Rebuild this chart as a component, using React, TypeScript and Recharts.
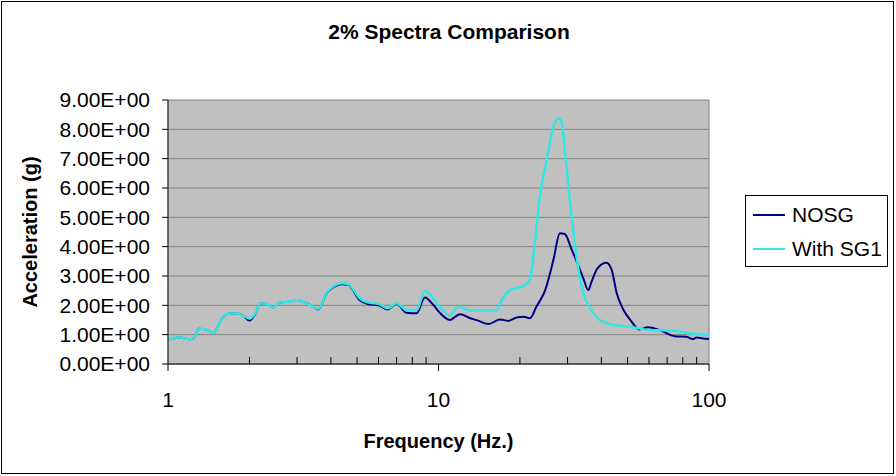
import React from "react";
import { LineChart, Line, XAxis, YAxis, CartesianGrid, ReferenceLine } from "recharts";

const titleText = "2% Spectra Comparison";
const xTitle = "Frequency (Hz.)";
const yTitle = "Acceleration (g)";
const seriesNames = ["NOSG", "With SG1"];

const yTicks = [0, 1, 2, 3, 4, 5, 6, 7, 8, 9];
const xTicks = [1, 2, 3, 4, 5, 6, 7, 8, 9, 10, 20, 30, 40, 50, 60, 70, 80, 90, 100];
const xMajor = [1, 10, 100];

const nosgFreq = [1.0, 1.05, 1.1, 1.15, 1.2, 1.25, 1.3, 1.38, 1.47, 1.55, 1.6, 1.7, 1.8, 1.9, 2.0, 2.1, 2.2, 2.3, 2.45, 2.6, 2.8, 3.0, 3.25, 3.45, 3.6, 3.85, 4.1, 4.4, 4.65, 4.8, 5.1, 5.5, 6.0, 6.5, 7.0, 7.6, 8.3, 8.9, 9.6, 10.1, 11, 12, 13.1, 14, 15.3, 16.9, 18.1, 19.4, 20.6, 21.8, 23, 24.8, 26.6, 28.1, 29.3, 31.1, 32.8, 34.3, 35.8, 36.8, 38.7, 41.8, 43.7, 45.6, 48.3, 51.2, 55.3, 59.5, 65.7, 74.9, 82.6, 86.9, 90, 95, 100];
const nosgAcc = [0.82, 0.87, 0.91, 0.88, 0.84, 0.9, 1.2, 1.18, 1.05, 1.4, 1.6, 1.72, 1.72, 1.64, 1.48, 1.7, 2.07, 2.05, 1.93, 2.1, 2.12, 2.18, 2.07, 1.95, 1.86, 2.4, 2.63, 2.72, 2.7, 2.55, 2.18, 2.04, 2.0, 1.86, 2.05, 1.75, 1.73, 2.27, 2.0, 1.75, 1.5, 1.7, 1.56, 1.48, 1.36, 1.52, 1.47, 1.58, 1.61, 1.56, 1.95, 2.52, 3.55, 4.46, 4.43, 3.89, 3.38, 2.92, 2.52, 2.81, 3.26, 3.45, 3.2, 2.41, 1.84, 1.5, 1.18, 1.25, 1.16, 0.95, 0.93, 0.85, 0.9, 0.87, 0.85];

const sg1Freq = [1.0, 1.05, 1.1, 1.15, 1.2, 1.25, 1.3, 1.38, 1.47, 1.55, 1.6, 1.7, 1.8, 1.9, 2.0, 2.1, 2.2, 2.3, 2.45, 2.6, 2.8, 3.0, 3.25, 3.45, 3.6, 3.85, 4.1, 4.4, 4.65, 4.8, 5.1, 5.5, 6.0, 6.5, 7.0, 7.6, 8.3, 8.9, 9.6, 10.1, 11, 11.85, 13.1, 16.4, 17.1, 18.4, 20.6, 21.8, 22.4, 23.7, 25.1, 26.6, 27.7, 28.5, 29.3, 30.6, 32.5, 34.3, 36.3, 39.5, 42.9, 51.2, 60.1, 71.9, 84.8, 98, 100];
const sg1Acc = [0.82, 0.87, 0.91, 0.88, 0.84, 0.9, 1.2, 1.18, 1.05, 1.4, 1.6, 1.72, 1.72, 1.64, 1.55, 1.72, 2.07, 2.05, 1.93, 2.1, 2.12, 2.18, 2.07, 1.95, 1.88, 2.42, 2.66, 2.75, 2.72, 2.58, 2.25, 2.1, 2.05, 1.9, 2.07, 1.84, 1.82, 2.49, 2.22, 1.95, 1.67, 1.95, 1.82, 1.82, 2.18, 2.52, 2.66, 2.86, 3.66, 5.7, 6.96, 8.09, 8.38, 8.26, 7.3, 5.59, 3.55, 2.41, 1.9, 1.5, 1.36, 1.27, 1.16, 1.14, 1.05, 0.99, 0.98];

const nosgData = nosgFreq.map((f, i) => ({ f, v: nosgAcc[i] }));
const sg1Data = sg1Freq.map((f, i) => ({ f, v: sg1Acc[i] }));

const FONT = "'Liberation Sans', Arial, sans-serif";
const NAVY = "#000080";
const CYAN = "#33e6e6";

const XTick = (props: any) => {
  const { x, y, payload } = props;
  const v = payload.value;
  const major = xMajor.includes(v);
  return (
    <g>
      <line x1={x} x2={x} y1={y} y2={major ? y + 7 : y - 7} stroke="#000" strokeWidth={1} />
      {major && (
        <text x={x} y={y + 43} textAnchor="middle" fontSize={21} fontFamily={FONT} fill="#000">
          {String(v)}
        </text>
      )}
    </g>
  );
};

const YTitle = () => {
  const cx = 30;
  const cy = 232;
  return (
    <text
      x={cx}
      y={cy}
      transform={`rotate(-90, ${cx}, ${cy})`}
      textAnchor="middle"
      dominantBaseline="central"
      fontSize={20}
      fontWeight="bold"
      fontFamily={FONT}
      fill="#000"
    >
      {yTitle}
    </text>
  );
};

const LegendBox = () => (
  <div
    style={{
      position: "absolute",
      left: 745,
      top: 195,
      width: 143,
      height: 72,
      border: "1px solid #000",
      boxSizing: "border-box",
      background: "#fff",
      fontFamily: FONT,
      fontSize: 21,
      color: "#000",
    }}
  >
    {[NAVY, CYAN].map((c, i) => (
      <div key={i} style={{ display: "flex", alignItems: "center", height: 34, marginTop: i === 0 ? 2 : 0 }}>
        <div style={{ width: 32, height: 2, background: c, marginLeft: 7, marginRight: 7 }} />
        <span>{seriesNames[i]}</span>
      </div>
    ))}
  </div>
);

export default function App() {
  return (
    <div style={{ position: "fixed", left: 0, top: 0, width: 896, height: 476, background: "#fff" }}>
      <div
        style={{
          position: "absolute",
          left: 1,
          top: 1,
          width: 893,
          height: 473,
          border: "1px solid #000",
          boxSizing: "border-box",
        }}
      />
      <div
        style={{
          position: "absolute",
          left: 0,
          top: 20,
          width: 898,
          textAlign: "center",
          fontFamily: FONT,
          fontWeight: "bold",
          fontSize: 21,
          color: "#000",
        }}
      >
        {titleText}
      </div>
      <div style={{ position: "absolute", left: 0, top: 0 }}>
        <LineChart width={896} height={476} margin={{ top: 100, right: 187, left: 0, bottom: 0 }}>
          <CartesianGrid horizontal vertical={false} stroke="#808080" fill="#c0c0c0" fillOpacity={1} />
          <XAxis
            dataKey="f"
            type="number"
            scale="log"
            domain={[1, 100]}
            allowDataOverflow
            ticks={xTicks}
            interval={0}
            height={112}
            tickSize={0}
            tickMargin={0}
            tickLine={false}
            tick={<XTick />}
            axisLine={{ stroke: "#404040", strokeWidth: 1.5 }}
            label={{ value: xTitle, position: "insideBottom", offset: 28, fontSize: 20, fontWeight: "bold", fontFamily: FONT, fill: "#000" }}
          />
          <YAxis
            type="number"
            domain={[0, 9]}
            ticks={yTicks}
            interval={0}
            width={168}
            tickSize={6}
            tickMargin={12}
            tickLine={{ stroke: "#000" }}
            axisLine={{ stroke: "#404040", strokeWidth: 1.5 }}
            tickFormatter={(v: number) => v.toFixed(2) + "E+00"}
            tick={{ fontSize: 21, fontFamily: FONT, fill: "#000" }}
            label={<YTitle />}
          />
          <ReferenceLine x={100} stroke="#808080" />
          <Line data={nosgData} dataKey="v" name={seriesNames[0]} type="monotone" stroke={NAVY} strokeWidth={2} dot={false} isAnimationActive={false} />
          <Line data={sg1Data} dataKey="v" name={seriesNames[1]} type="monotone" stroke={CYAN} strokeWidth={2.5} dot={false} isAnimationActive={false} />
        </LineChart>
      </div>
      <LegendBox />
    </div>
  );
}
